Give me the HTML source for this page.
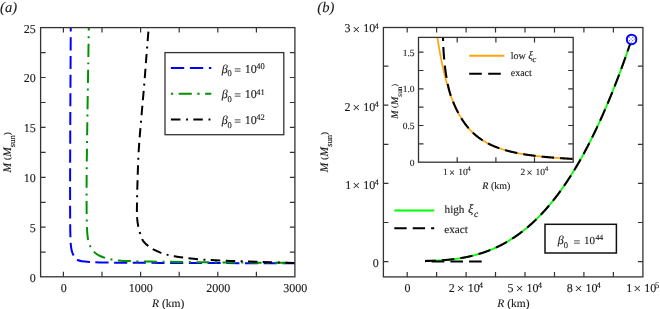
<!DOCTYPE html><html><head><meta charset="utf-8"><style>
html,body{margin:0;padding:0;background:#fff;}
svg{display:block;will-change:transform;text-rendering:geometricPrecision;font-family:"Liberation Serif",serif;}
text{fill:#1a1a1a;stroke:#1a1a1a;stroke-width:0.12px;}
</style></head><body>
<svg width="660" height="309" viewBox="0 0 660 309">
<rect x="0" y="0" width="660" height="309" fill="#fff"/>
<text x="0.09" y="12.20" font-size="14.6" font-style="italic">(a)</text>
<defs><clipPath id="ca"><rect x="40.6" y="27.6" width="254.3" height="249.2"/></clipPath>
<clipPath id="cb"><rect x="383.4" y="27.5" width="259.4" height="249.4"/></clipPath>
<clipPath id="ci"><rect x="418.5" y="37.4" width="154.7" height="124.8"/></clipPath></defs>
<g clip-path="url(#ca)" fill="none" stroke-width="2">
<path d="M70.80 20.00 C70.77 26.67 70.68 43.33 70.60 60.00 C70.52 76.67 70.38 98.33 70.30 120.00 C70.22 141.67 70.12 172.50 70.10 190.00 C70.08 207.50 70.15 217.33 70.20 225.00 C70.25 232.67 70.32 232.93 70.40 236.00 C70.48 239.07 70.55 241.32 70.70 243.40 C70.85 245.48 71.05 247.02 71.30 248.50 C71.55 249.98 71.85 251.20 72.20 252.30 C72.55 253.40 72.88 254.15 73.40 255.10 C73.92 256.05 74.62 257.18 75.30 258.00 C75.98 258.82 76.38 259.47 77.50 260.00 C78.62 260.53 80.05 260.88 82.00 261.20 C83.95 261.52 86.20 261.70 89.20 261.90 C92.20 262.10 94.87 262.27 100.00 262.40 C105.13 262.53 110.00 262.62 120.00 262.70 C130.00 262.78 143.33 262.83 160.00 262.90 C176.67 262.97 197.33 263.03 220.00 263.10 C242.67 263.17 283.33 263.27 296.00 263.30" stroke="#0000ff" stroke-dasharray="13.1 5.58" stroke-dashoffset="1.34"/>
<path d="M88.90 20.00 C88.80 26.67 88.53 45.00 88.30 60.00 C88.07 75.00 87.77 91.67 87.50 110.00 C87.23 128.33 86.85 154.17 86.70 170.00 C86.55 185.83 86.58 196.33 86.60 205.00 C86.62 213.67 86.70 217.50 86.80 222.00 C86.90 226.50 87.02 229.25 87.20 232.00 C87.38 234.75 87.62 236.70 87.90 238.50 C88.18 240.30 88.52 241.53 88.90 242.80 C89.28 244.07 89.72 245.07 90.20 246.10 C90.68 247.13 91.23 248.12 91.80 249.00 C92.37 249.88 92.82 250.57 93.60 251.40 C94.38 252.23 95.43 253.23 96.50 254.00 C97.57 254.77 98.60 255.35 100.00 256.00 C101.40 256.65 103.02 257.33 104.90 257.90 C106.78 258.47 109.07 258.98 111.30 259.40 C113.53 259.82 115.18 260.12 118.30 260.40 C121.42 260.68 124.72 260.90 130.00 261.10 C135.28 261.30 138.33 261.42 150.00 261.60 C161.67 261.78 183.33 262.03 200.00 262.20 C216.67 262.37 234.00 262.48 250.00 262.60 C266.00 262.72 288.33 262.85 296.00 262.90" stroke="#009200" stroke-dasharray="2 5.6 12.9 5.65" stroke-dashoffset="9.75"/>
<path d="M148.40 31.60 C148.08 35.50 147.20 46.10 146.50 55.00 C145.80 63.90 145.07 74.50 144.20 85.00 C143.33 95.50 142.22 107.00 141.30 118.00 C140.38 129.00 139.35 139.83 138.70 151.00 C138.05 162.17 137.70 175.17 137.40 185.00 C137.10 194.83 136.95 204.50 136.90 210.00 C136.85 215.50 136.88 215.32 137.10 218.00 C137.32 220.68 137.72 223.58 138.20 226.10 C138.68 228.62 139.32 230.87 140.00 233.10 C140.68 235.33 141.47 237.83 142.30 239.50 C143.13 241.17 144.02 242.03 145.00 243.10 C145.98 244.17 146.80 244.85 148.20 245.90 C149.60 246.95 151.27 248.23 153.40 249.40 C155.53 250.57 158.63 251.98 161.00 252.90 C163.37 253.82 165.37 254.33 167.60 254.90 C169.83 255.47 171.82 255.85 174.40 256.30 C176.98 256.75 179.22 257.10 183.10 257.60 C186.98 258.10 193.22 258.90 197.70 259.30 C202.18 259.70 204.62 259.73 210.00 260.00 C215.38 260.27 223.33 260.63 230.00 260.90 C236.67 261.17 243.33 261.37 250.00 261.60 C256.67 261.83 262.33 262.07 270.00 262.30 C277.67 262.53 291.67 262.88 296.00 263.00" stroke="#000" stroke-dasharray="9.4 5.5 9.4 5.5 2 5.41" stroke-dashoffset="14.77"/>
</g>
<g stroke="#333" fill="none" stroke-width="1.3">
<rect x="40.6" y="27.6" width="254.3" height="249.2"/>
<path d="M63.4 276.8V271.8 M63.4 27.6V32.6 M102.0 276.8V271.8 M102.0 27.6V32.6 M140.6 276.8V271.8 M140.6 27.6V32.6 M179.2 276.8V271.8 M179.2 27.6V32.6 M217.8 276.8V271.8 M217.8 27.6V32.6 M256.4 276.8V271.8 M256.4 27.6V32.6 M40.6 252.2H45.6 M294.9 252.2H289.9 M40.6 227.2H45.6 M294.9 227.2H289.9 M40.6 202.3H45.6 M294.9 202.3H289.9 M40.6 177.3H45.6 M294.9 177.3H289.9 M40.6 152.4H45.6 M294.9 152.4H289.9 M40.6 127.4H45.6 M294.9 127.4H289.9 M40.6 102.5H45.6 M294.9 102.5H289.9 M40.6 77.5H45.6 M294.9 77.5H289.9 M40.6 52.6H45.6 M294.9 52.6H289.9" stroke-width="1.2"/>
</g>
<text x="29.76" y="281.65" font-size="12">0</text>
<text x="29.77" y="231.80" font-size="12">5</text>
<text x="23.76" y="181.90" font-size="12">10</text>
<text x="23.77" y="132.00" font-size="12">15</text>
<text x="23.76" y="82.10" font-size="12">20</text>
<text x="23.77" y="32.50" font-size="12">25</text>
<text x="60.80" y="291.65" font-size="12">0</text>
<text x="128.70" y="291.65" font-size="12">1000</text>
<text x="206.16" y="291.65" font-size="12">2000</text>
<text x="283.34" y="291.65" font-size="12">3000</text>
<text x="152.06" y="306.60" font-size="11.5" font-style="italic">R</text><text x="161.96" y="306.60" font-size="11.5">(km)</text>
<g transform="translate(11.40,172.60) rotate(-90)"><text x="0.13" y="0.00" font-size="11.5" font-style="italic">M</text><text x="12.59" y="-1.30" font-size="8.97">(</text><text x="15.88" y="0.00" font-size="11.5" font-style="italic">M</text><text x="25.46" y="3.80" font-size="8.6">sun</text><text x="37.40" y="-1.30" font-size="8.97">)</text></g>
<rect x="165" y="52.6" width="118.8" height="82.1" fill="#fff" stroke="#333" stroke-width="1.3"/>
<path d="M170.9 68H211.3" stroke="#0000ff" stroke-width="2" stroke-dasharray="13.3 5.7"/>
<path d="M170.9 93.8H211.3" stroke="#009200" stroke-width="2" stroke-dasharray="2.3 5.5 13.1 5.5"/>
<path d="M170.9 119.6H211.3" stroke="#000" stroke-width="2" stroke-dasharray="9.5 5.7 1.9 5.3"/>
<text x="221.79" y="72.50" font-size="12" font-style="italic">β</text><text x="227.38" y="76.40" font-size="8.5">0</text><text x="234.30" y="73.60" font-size="12">=</text><text x="244.75" y="72.50" font-size="12">10</text><text x="256.33" y="68.80" font-size="8.5">40</text>
<text x="221.79" y="98.20" font-size="12" font-style="italic">β</text><text x="227.38" y="102.10" font-size="8.5">0</text><text x="234.30" y="99.30" font-size="12">=</text><text x="244.75" y="98.20" font-size="12">10</text><text x="256.33" y="94.50" font-size="8.5">41</text>
<text x="221.79" y="123.90" font-size="12" font-style="italic">β</text><text x="227.38" y="127.80" font-size="8.5">0</text><text x="234.30" y="125.00" font-size="12">=</text><text x="244.75" y="123.90" font-size="12">10</text><text x="256.33" y="120.20" font-size="8.5">42</text>
<text x="317.29" y="12.00" font-size="14.6" font-style="italic">(b)</text>
<g clip-path="url(#cb)" fill="none" stroke-width="2">
<path d="M425.00 260.95 L425.43 260.95 L425.86 260.94 L426.29 260.93 L426.72 260.92 L427.15 260.91 L427.59 260.90 L428.02 260.89 L428.45 260.88 L428.88 260.87 L429.31 260.86 L429.74 260.84 L430.17 260.83 L430.60 260.82 L431.03 260.80 L431.46 260.79 L431.89 260.78 L432.32 260.76 L432.76 260.74 L433.19 260.73 L433.62 260.71 L434.05 260.69 L434.48 260.68 L434.91 260.66 L435.34 260.64 L435.77 260.62 L436.20 260.60 L436.63 260.58 L437.06 260.56 L437.49 260.53 L437.93 260.51 L438.36 260.49 L438.79 260.46 L439.22 260.44 L439.65 260.41 L440.08 260.39 L440.51 260.36 L440.94 260.33 L441.37 260.30 L441.80 260.27 L442.23 260.24 L442.67 260.21 L443.10 260.18 L443.53 260.15 L443.96 260.12 L444.39 260.08 L444.82 260.05 L445.25 260.01 L445.68 259.98 L446.11 259.94 L446.54 259.90 L446.97 259.86 L447.40 259.82 L447.84 259.78 L448.27 259.74 L448.70 259.70 L449.13 259.66 L449.56 259.61 L449.99 259.57 L450.42 259.52 L450.85 259.47 L451.28 259.43 L451.71 259.38 L452.14 259.33 L452.58 259.28 L453.01 259.23 L453.44 259.17 L453.87 259.12 L454.30 259.07 L454.73 259.01 L455.16 258.95 L455.59 258.90 L456.02 258.84 L456.45 258.78 L456.88 258.72 L457.31 258.66 L457.75 258.59 L458.18 258.53 L458.61 258.46 L459.04 258.40 L459.47 258.33 L459.90 258.26 L460.33 258.19 L460.76 258.12 L461.19 258.05 L461.62 257.98 L462.05 257.90 L462.48 257.83 L462.92 257.75 L463.35 257.67 L463.78 257.59 L464.21 257.51 L464.64 257.43 L465.07 257.35 L465.50 257.27 L465.93 257.18 L466.36 257.09 L466.79 257.01 L467.22 256.92 L467.66 256.83 L468.09 256.73 L468.52 256.64 L468.95 256.55 L469.38 256.45 L469.81 256.35 L470.24 256.26 L470.67 256.16 L471.10 256.06 L471.53 255.95 L471.96 255.85 L472.39 255.74 L472.83 255.64 L473.26 255.53 L473.69 255.42 L474.12 255.31 L474.55 255.20 L474.98 255.08 L475.41 254.97 L475.84 254.85 L476.27 254.73 L476.70 254.61 L477.13 254.49 L477.57 254.37 L478.00 254.24 L478.43 254.12 L478.86 253.99 L479.29 253.86 L479.72 253.73 L480.15 253.60 L480.58 253.46 L481.01 253.33 L481.44 253.19 L481.87 253.05 L482.30 252.91 L482.74 252.77 L483.17 252.63 L483.60 252.48 L484.03 252.34 L484.46 252.19 L484.89 252.04 L485.32 251.88 L485.75 251.73 L486.18 251.58 L486.61 251.42 L487.04 251.26 L487.47 251.10 L487.91 250.94 L488.34 250.77 L488.77 250.61 L489.20 250.44 L489.63 250.27 L490.06 250.10 L490.49 249.93 L490.92 249.75 L491.35 249.58 L491.78 249.40 L492.21 249.22 L492.65 249.04 L493.08 248.85 L493.51 248.67 L493.94 248.48 L494.37 248.29 L494.80 248.10 L495.23 247.90 L495.66 247.71 L496.09 247.51 L496.52 247.31 L496.95 247.11 L497.38 246.91 L497.82 246.70 L498.25 246.50 L498.68 246.29 L499.11 246.08 L499.54 245.86 L499.97 245.65 L500.40 245.43 L500.83 245.21 L501.26 244.99 L501.69 244.77 L502.12 244.54 L502.56 244.32 L502.99 244.09 L503.42 243.85 L503.85 243.62 L504.28 243.39 L504.71 243.15 L505.14 242.91 L505.57 242.67 L506.00 242.42 L506.43 242.18 L506.86 241.93 L507.29 241.68 L507.73 241.42 L508.16 241.17 L508.59 240.91 L509.02 240.65 L509.45 240.39 L509.88 240.13 L510.31 239.86 L510.74 239.59 L511.17 239.32 L511.60 239.05 L512.03 238.77 L512.46 238.49 L512.90 238.21 L513.33 237.93 L513.76 237.65 L514.19 237.36 L514.62 237.07 L515.05 236.78 L515.48 236.49 L515.91 236.19 L516.34 235.89 L516.77 235.59 L517.20 235.29 L517.64 234.98 L518.07 234.67 L518.50 234.36 L518.93 234.05 L519.36 233.73 L519.79 233.42 L520.22 233.10 L520.65 232.77 L521.08 232.45 L521.51 232.12 L521.94 231.79 L522.37 231.46 L522.81 231.12 L523.24 230.78 L523.67 230.44 L524.10 230.10 L524.53 229.75 L524.96 229.40 L525.39 229.05 L525.82 228.70 L526.25 228.34 L526.68 227.99 L527.11 227.62 L527.55 227.26 L527.98 226.89 L528.41 226.53 L528.84 226.15 L529.27 225.78 L529.70 225.40 L530.13 225.02 L530.56 224.64 L530.99 224.25 L531.42 223.87 L531.85 223.48 L532.28 223.08 L532.72 222.69 L533.15 222.29 L533.58 221.89 L534.01 221.48 L534.44 221.07 L534.87 220.66 L535.30 220.25 L535.73 219.84 L536.16 219.42 L536.59 219.00 L537.02 218.57 L537.45 218.15 L537.89 217.72 L538.32 217.28 L538.75 216.85 L539.18 216.41 L539.61 215.97 L540.04 215.52 L540.47 215.08 L540.90 214.63 L541.33 214.17 L541.76 213.72 L542.19 213.26 L542.63 212.80 L543.06 212.33 L543.49 211.86 L543.92 211.39 L544.35 210.92 L544.78 210.44 L545.21 209.96 L545.64 209.48 L546.07 208.99 L546.50 208.50 L546.93 208.01 L547.36 207.52 L547.80 207.02 L548.23 206.52 L548.66 206.01 L549.09 205.51 L549.52 204.99 L549.95 204.48 L550.38 203.96 L550.81 203.44 L551.24 202.92 L551.67 202.39 L552.10 201.86 L552.54 201.33 L552.97 200.80 L553.40 200.26 L553.83 199.71 L554.26 199.17 L554.69 198.62 L555.12 198.07 L555.55 197.51 L555.98 196.95 L556.41 196.39 L556.84 195.83 L557.27 195.26 L557.71 194.69 L558.14 194.11 L558.57 193.53 L559.00 192.95 L559.43 192.37 L559.86 191.78 L560.29 191.19 L560.72 190.59 L561.15 189.99 L561.58 189.39 L562.01 188.79 L562.44 188.18 L562.88 187.56 L563.31 186.95 L563.74 186.33 L564.17 185.71 L564.60 185.08 L565.03 184.45 L565.46 183.82 L565.89 183.18 L566.32 182.54 L566.75 181.90 L567.18 181.25 L567.62 180.60 L568.05 179.95 L568.48 179.29 L568.91 178.63 L569.34 177.97 L569.77 177.30 L570.20 176.63 L570.63 175.95 L571.06 175.27 L571.49 174.59 L571.92 173.90 L572.35 173.21 L572.79 172.52 L573.22 171.82 L573.65 171.12 L574.08 170.42 L574.51 169.71 L574.94 169.00 L575.37 168.28 L575.80 167.56 L576.23 166.84 L576.66 166.11 L577.09 165.38 L577.53 164.65 L577.96 163.91 L578.39 163.17 L578.82 162.42 L579.25 161.68 L579.68 160.92 L580.11 160.17 L580.54 159.41 L580.97 158.64 L581.40 157.87 L581.83 157.10 L582.26 156.32 L582.70 155.54 L583.13 154.76 L583.56 153.97 L583.99 153.18 L584.42 152.39 L584.85 151.59 L585.28 150.78 L585.71 149.98 L586.14 149.17 L586.57 148.35 L587.00 147.53 L587.43 146.71 L587.87 145.88 L588.30 145.05 L588.73 144.22 L589.16 143.38 L589.59 142.53 L590.02 141.69 L590.45 140.84 L590.88 139.98 L591.31 139.12 L591.74 138.26 L592.17 137.39 L592.61 136.52 L593.04 135.64 L593.47 134.77 L593.90 133.88 L594.33 132.99 L594.76 132.10 L595.19 131.21 L595.62 130.31 L596.05 129.40 L596.48 128.49 L596.91 127.58 L597.34 126.66 L597.78 125.74 L598.21 124.82 L598.64 123.89 L599.07 122.95 L599.50 122.02 L599.93 121.07 L600.36 120.13 L600.79 119.18 L601.22 118.22 L601.65 117.26 L602.08 116.30 L602.52 115.33 L602.95 114.36 L603.38 113.38 L603.81 112.40 L604.24 111.41 L604.67 110.42 L605.10 109.43 L605.53 108.43 L605.96 107.43 L606.39 106.42 L606.82 105.41 L607.25 104.39 L607.69 103.37 L608.12 102.35 L608.55 101.32 L608.98 100.29 L609.41 99.25 L609.84 98.21 L610.27 97.16 L610.70 96.11 L611.13 95.05 L611.56 93.99 L611.99 92.92 L612.42 91.85 L612.86 90.78 L613.29 89.70 L613.72 88.62 L614.15 87.53 L614.58 86.44 L615.01 85.34 L615.44 84.24 L615.87 83.13 L616.30 82.02 L616.73 80.91 L617.16 79.79 L617.60 78.66 L618.03 77.53 L618.46 76.40 L618.89 75.26 L619.32 74.11 L619.75 72.97 L620.18 71.81 L620.61 70.66 L621.04 69.49 L621.47 68.33 L621.90 67.15 L622.33 65.98 L622.77 64.80 L623.20 63.61 L623.63 62.42 L624.06 61.22 L624.49 60.02 L624.92 58.82 L625.35 57.61 L625.78 56.39 L626.21 55.17 L626.64 53.95 L627.07 52.72 L627.51 51.48 L627.94 50.24 L628.37 49.00 L628.80 47.75 L629.23 46.50 L629.66 45.24 L630.09 43.97 L630.52 42.70 L630.95 41.43 L631.38 40.15" stroke="#00ff00" stroke-width="1.8"/>
<path d="M425.00 260.95 L425.43 260.95 L425.86 260.94 L426.29 260.93 L426.72 260.92 L427.15 260.91 L427.59 260.90 L428.02 260.89 L428.45 260.88 L428.88 260.87 L429.31 260.86 L429.74 260.84 L430.17 260.83 L430.60 260.82 L431.03 260.80 L431.46 260.79 L431.89 260.78 L432.32 260.76 L432.76 260.74 L433.19 260.73 L433.62 260.71 L434.05 260.69 L434.48 260.68 L434.91 260.66 L435.34 260.64 L435.77 260.62 L436.20 260.60 L436.63 260.58 L437.06 260.56 L437.49 260.53 L437.93 260.51 L438.36 260.49 L438.79 260.46 L439.22 260.44 L439.65 260.41 L440.08 260.39 L440.51 260.36 L440.94 260.33 L441.37 260.30 L441.80 260.27 L442.23 260.24 L442.67 260.21 L443.10 260.18 L443.53 260.15 L443.96 260.12 L444.39 260.08 L444.82 260.05 L445.25 260.01 L445.68 259.98 L446.11 259.94 L446.54 259.90 L446.97 259.86 L447.40 259.82 L447.84 259.78 L448.27 259.74 L448.70 259.70 L449.13 259.66 L449.56 259.61 L449.99 259.57 L450.42 259.52 L450.85 259.47 L451.28 259.43 L451.71 259.38 L452.14 259.33 L452.58 259.28 L453.01 259.23 L453.44 259.17 L453.87 259.12 L454.30 259.07 L454.73 259.01 L455.16 258.95 L455.59 258.90 L456.02 258.84 L456.45 258.78 L456.88 258.72 L457.31 258.66 L457.75 258.59 L458.18 258.53 L458.61 258.46 L459.04 258.40 L459.47 258.33 L459.90 258.26 L460.33 258.19 L460.76 258.12 L461.19 258.05 L461.62 257.98 L462.05 257.90 L462.48 257.83 L462.92 257.75 L463.35 257.67 L463.78 257.59 L464.21 257.51 L464.64 257.43 L465.07 257.35 L465.50 257.27 L465.93 257.18 L466.36 257.09 L466.79 257.01 L467.22 256.92 L467.66 256.83 L468.09 256.73 L468.52 256.64 L468.95 256.55 L469.38 256.45 L469.81 256.35 L470.24 256.26 L470.67 256.16 L471.10 256.06 L471.53 255.95 L471.96 255.85 L472.39 255.74 L472.83 255.64 L473.26 255.53 L473.69 255.42 L474.12 255.31 L474.55 255.20 L474.98 255.08 L475.41 254.97 L475.84 254.85 L476.27 254.73 L476.70 254.61 L477.13 254.49 L477.57 254.37 L478.00 254.24 L478.43 254.12 L478.86 253.99 L479.29 253.86 L479.72 253.73 L480.15 253.60 L480.58 253.46 L481.01 253.33 L481.44 253.19 L481.87 253.05 L482.30 252.91 L482.74 252.77 L483.17 252.63 L483.60 252.48 L484.03 252.34 L484.46 252.19 L484.89 252.04 L485.32 251.88 L485.75 251.73 L486.18 251.58 L486.61 251.42 L487.04 251.26 L487.47 251.10 L487.91 250.94 L488.34 250.77 L488.77 250.61 L489.20 250.44 L489.63 250.27 L490.06 250.10 L490.49 249.93 L490.92 249.75 L491.35 249.58 L491.78 249.40 L492.21 249.22 L492.65 249.04 L493.08 248.85 L493.51 248.67 L493.94 248.48 L494.37 248.29 L494.80 248.10 L495.23 247.90 L495.66 247.71 L496.09 247.51 L496.52 247.31 L496.95 247.11 L497.38 246.91 L497.82 246.70 L498.25 246.50 L498.68 246.29 L499.11 246.08 L499.54 245.86 L499.97 245.65 L500.40 245.43 L500.83 245.21 L501.26 244.99 L501.69 244.77 L502.12 244.54 L502.56 244.32 L502.99 244.09 L503.42 243.85 L503.85 243.62 L504.28 243.39 L504.71 243.15 L505.14 242.91 L505.57 242.67 L506.00 242.42 L506.43 242.18 L506.86 241.93 L507.29 241.68 L507.73 241.42 L508.16 241.17 L508.59 240.91 L509.02 240.65 L509.45 240.39 L509.88 240.13 L510.31 239.86 L510.74 239.59 L511.17 239.32 L511.60 239.05 L512.03 238.77 L512.46 238.49 L512.90 238.21 L513.33 237.93 L513.76 237.65 L514.19 237.36 L514.62 237.07 L515.05 236.78 L515.48 236.49 L515.91 236.19 L516.34 235.89 L516.77 235.59 L517.20 235.29 L517.64 234.98 L518.07 234.67 L518.50 234.36 L518.93 234.05 L519.36 233.73 L519.79 233.42 L520.22 233.10 L520.65 232.77 L521.08 232.45 L521.51 232.12 L521.94 231.79 L522.37 231.46 L522.81 231.12 L523.24 230.78 L523.67 230.44 L524.10 230.10 L524.53 229.75 L524.96 229.40 L525.39 229.05 L525.82 228.70 L526.25 228.34 L526.68 227.99 L527.11 227.62 L527.55 227.26 L527.98 226.89 L528.41 226.53 L528.84 226.15 L529.27 225.78 L529.70 225.40 L530.13 225.02 L530.56 224.64 L530.99 224.25 L531.42 223.87 L531.85 223.48 L532.28 223.08 L532.72 222.69 L533.15 222.29 L533.58 221.89 L534.01 221.48 L534.44 221.07 L534.87 220.66 L535.30 220.25 L535.73 219.84 L536.16 219.42 L536.59 219.00 L537.02 218.57 L537.45 218.15 L537.89 217.72 L538.32 217.28 L538.75 216.85 L539.18 216.41 L539.61 215.97 L540.04 215.52 L540.47 215.08 L540.90 214.63 L541.33 214.17 L541.76 213.72 L542.19 213.26 L542.63 212.80 L543.06 212.33 L543.49 211.86 L543.92 211.39 L544.35 210.92 L544.78 210.44 L545.21 209.96 L545.64 209.48 L546.07 208.99 L546.50 208.50 L546.93 208.01 L547.36 207.52 L547.80 207.02 L548.23 206.52 L548.66 206.01 L549.09 205.51 L549.52 204.99 L549.95 204.48 L550.38 203.96 L550.81 203.44 L551.24 202.92 L551.67 202.39 L552.10 201.86 L552.54 201.33 L552.97 200.80 L553.40 200.26 L553.83 199.71 L554.26 199.17 L554.69 198.62 L555.12 198.07 L555.55 197.51 L555.98 196.95 L556.41 196.39 L556.84 195.83 L557.27 195.26 L557.71 194.69 L558.14 194.11 L558.57 193.53 L559.00 192.95 L559.43 192.37 L559.86 191.78 L560.29 191.19 L560.72 190.59 L561.15 189.99 L561.58 189.39 L562.01 188.79 L562.44 188.18 L562.88 187.56 L563.31 186.95 L563.74 186.33 L564.17 185.71 L564.60 185.08 L565.03 184.45 L565.46 183.82 L565.89 183.18 L566.32 182.54 L566.75 181.90 L567.18 181.25 L567.62 180.60 L568.05 179.95 L568.48 179.29 L568.91 178.63 L569.34 177.97 L569.77 177.30 L570.20 176.63 L570.63 175.95 L571.06 175.27 L571.49 174.59 L571.92 173.90 L572.35 173.21 L572.79 172.52 L573.22 171.82 L573.65 171.12 L574.08 170.42 L574.51 169.71 L574.94 169.00 L575.37 168.28 L575.80 167.56 L576.23 166.84 L576.66 166.11 L577.09 165.38 L577.53 164.65 L577.96 163.91 L578.39 163.17 L578.82 162.42 L579.25 161.68 L579.68 160.92 L580.11 160.17 L580.54 159.41 L580.97 158.64 L581.40 157.87 L581.83 157.10 L582.26 156.32 L582.70 155.54 L583.13 154.76 L583.56 153.97 L583.99 153.18 L584.42 152.39 L584.85 151.59 L585.28 150.78 L585.71 149.98 L586.14 149.17 L586.57 148.35 L587.00 147.53 L587.43 146.71 L587.87 145.88 L588.30 145.05 L588.73 144.22 L589.16 143.38 L589.59 142.53 L590.02 141.69 L590.45 140.84 L590.88 139.98 L591.31 139.12 L591.74 138.26 L592.17 137.39 L592.61 136.52 L593.04 135.64 L593.47 134.77 L593.90 133.88 L594.33 132.99 L594.76 132.10 L595.19 131.21 L595.62 130.31 L596.05 129.40 L596.48 128.49 L596.91 127.58 L597.34 126.66 L597.78 125.74 L598.21 124.82 L598.64 123.89 L599.07 122.95 L599.50 122.02 L599.93 121.07 L600.36 120.13 L600.79 119.18 L601.22 118.22 L601.65 117.26 L602.08 116.30 L602.52 115.33 L602.95 114.36 L603.38 113.38 L603.81 112.40 L604.24 111.41 L604.67 110.42 L605.10 109.43 L605.53 108.43 L605.96 107.43 L606.39 106.42 L606.82 105.41 L607.25 104.39 L607.69 103.37 L608.12 102.35 L608.55 101.32 L608.98 100.29 L609.41 99.25 L609.84 98.21 L610.27 97.16 L610.70 96.11 L611.13 95.05 L611.56 93.99 L611.99 92.92 L612.42 91.85 L612.86 90.78 L613.29 89.70 L613.72 88.62 L614.15 87.53 L614.58 86.44 L615.01 85.34 L615.44 84.24 L615.87 83.13 L616.30 82.02 L616.73 80.91 L617.16 79.79 L617.60 78.66 L618.03 77.53 L618.46 76.40 L618.89 75.26 L619.32 74.11 L619.75 72.97 L620.18 71.81 L620.61 70.66 L621.04 69.49 L621.47 68.33 L621.90 67.15 L622.33 65.98 L622.77 64.80 L623.20 63.61 L623.63 62.42 L624.06 61.22 L624.49 60.02 L624.92 58.82 L625.35 57.61 L625.78 56.39 L626.21 55.17 L626.64 53.95 L627.07 52.72 L627.51 51.48 L627.94 50.24 L628.37 49.00 L628.80 47.75 L629.23 46.50 L629.66 45.24 L630.09 43.97 L630.52 42.70 L630.95 41.43 L631.38 40.15" stroke="#000" stroke-width="2.1" stroke-dasharray="12.55 6.08" stroke-dashoffset="1.84"/>
<path d="M481.7 261.45H425" stroke="#000" stroke-dasharray="12.6 6.12"/>
</g>
<circle cx="631.6" cy="39.4" r="4.75" fill="#fff" stroke="#0000ff" stroke-width="2"/>
<circle cx="629.30" cy="37.30" r="0.6" fill="#4a4aff"/>
<circle cx="632.70" cy="37.30" r="0.6" fill="#4a4aff"/>
<circle cx="631.10" cy="39.00" r="0.6" fill="#4a4aff"/>
<circle cx="634.20" cy="39.10" r="0.6" fill="#4a4aff"/>
<circle cx="629.50" cy="40.60" r="0.6" fill="#4a4aff"/>
<circle cx="632.70" cy="40.60" r="0.6" fill="#4a4aff"/>
<circle cx="631.20" cy="42.10" r="0.6" fill="#4a4aff"/>
<g stroke="#333" fill="none" stroke-width="1.3">
<rect x="383.4" y="27.5" width="259.5" height="249.4"/>
<path d="M407.2 276.9V271.9 M407.2 27.5V32.5 M436.6 276.9V271.9 M436.6 27.5V32.5 M466.1 276.9V271.9 M466.1 27.5V32.5 M495.5 276.9V271.9 M495.5 27.5V32.5 M525.0 276.9V271.9 M525.0 27.5V32.5 M554.5 276.9V271.9 M554.5 27.5V32.5 M583.9 276.9V271.9 M583.9 27.5V32.5 M613.4 276.9V271.9 M613.4 27.5V32.5 M383.4 261.6H388.4 M642.9 261.6H637.9 M383.4 222.5H388.4 M642.9 222.5H637.9 M383.4 183.4H388.4 M642.9 183.4H637.9 M383.4 144.3H388.4 M642.9 144.3H637.9 M383.4 105.2H388.4 M642.9 105.2H637.9 M383.4 66.1H388.4 M642.9 66.1H637.9" stroke-width="1.2"/>
</g>
<text x="372.86" y="266.60" font-size="12">0</text>
<text x="345.15" y="188.70" font-size="12">1</text><text x="352.53" y="190.10" font-size="13.5">×</text><text x="363.35" y="188.70" font-size="12">10</text><text x="374.43" y="185.10" font-size="8.5">4</text>
<text x="344.47" y="110.50" font-size="12">2</text><text x="352.53" y="111.90" font-size="13.5">×</text><text x="363.35" y="110.50" font-size="12">10</text><text x="374.43" y="106.90" font-size="8.5">4</text>
<text x="344.43" y="32.30" font-size="12">3</text><text x="352.53" y="33.70" font-size="13.5">×</text><text x="363.35" y="32.30" font-size="12">10</text><text x="374.43" y="28.70" font-size="8.5">4</text>
<text x="404.40" y="291.90" font-size="12">0</text>
<text x="448.77" y="291.90" font-size="12">2</text><text x="456.83" y="293.30" font-size="13.5">×</text><text x="467.65" y="291.90" font-size="12">10</text><text x="478.73" y="288.30" font-size="8.5">4</text>
<text x="507.50" y="291.90" font-size="12">5</text><text x="515.73" y="293.30" font-size="13.5">×</text><text x="526.55" y="291.90" font-size="12">10</text><text x="537.63" y="288.30" font-size="8.5">4</text>
<text x="566.64" y="291.90" font-size="12">8</text><text x="574.63" y="293.30" font-size="13.5">×</text><text x="585.45" y="291.90" font-size="12">10</text><text x="596.53" y="288.30" font-size="8.5">4</text>
<text x="626.15" y="291.90" font-size="12">1</text><text x="633.53" y="293.30" font-size="13.5">×</text><text x="644.35" y="291.90" font-size="12">10</text><text x="655.11" y="288.30" font-size="8.5">5</text>
<text x="497.36" y="306.70" font-size="11.5" font-style="italic">R</text><text x="507.26" y="306.70" font-size="11.5">(km)</text>
<g transform="translate(327.80,172.30) rotate(-90)"><text x="0.13" y="0.00" font-size="11.5" font-style="italic">M</text><text x="12.59" y="-1.30" font-size="8.97">(</text><text x="15.88" y="0.00" font-size="11.5" font-style="italic">M</text><text x="25.46" y="3.90" font-size="8.6">sun</text><text x="37.40" y="-1.30" font-size="8.97">)</text></g>
<path d="M394.3 210.5H434.2" stroke="#00ff00" stroke-width="1.9"/>
<path d="M394.3 228.3H434.2" stroke="#000" stroke-width="2" stroke-dasharray="12.4 6"/>
<text x="444.59" y="212.90" font-size="11.2">high</text>
<text x="468.07" y="213.20" font-size="12.5" font-style="italic">ξ</text>
<text x="473.91" y="217.10" font-size="9.5" font-style="italic">c</text>
<text x="444.26" y="232.60" font-size="11.2">exact</text>
<rect x="545" y="224.3" width="71.4" height="28.7" fill="#fff" stroke="#111" stroke-width="1.5"/>
<text x="557.79" y="243.80" font-size="12" font-style="italic">β</text><text x="563.78" y="247.70" font-size="8.5">0</text><text x="573.40" y="245.80" font-size="12">=</text><text x="583.95" y="243.80" font-size="11">10</text><text x="595.45" y="240.00" font-size="7.8">44</text>
<rect x="418.5" y="37.4" width="154.7" height="124.8" fill="#fff"/>
<g clip-path="url(#ci)" fill="none">
<path d="M437.37 37.40 L437.83 40.34 L438.29 43.19 L438.75 45.96 L439.21 48.63 L439.66 51.23 L440.12 53.75 L440.58 56.19 L441.04 58.56 L441.50 60.86 L441.96 63.09 L442.42 65.25 L442.88 67.36 L443.34 69.40 L443.80 71.39 L444.26 73.32 L444.72 75.19 L445.18 77.01 L445.64 78.78 L446.10 80.51 L446.56 82.18 L447.02 83.81 L447.48 85.40 L447.93 86.94 L448.39 88.45 L448.85 89.91 L449.31 91.33 L449.77 92.72 L450.23 94.07 L450.69 95.39 L451.15 96.67 L451.61 97.92 L452.07 99.14 L452.53 100.33 L452.99 101.49 L453.45 102.62 L453.91 103.72 L454.37 104.79 L454.83 105.84 L455.29 106.86 L455.75 107.86 L456.21 108.84 L456.66 109.79 L457.12 110.72 L457.58 111.63 L458.04 112.51 L458.50 113.38 L458.96 114.22 L459.42 115.05 L459.88 115.86 L460.34 116.64 L460.80 117.42 L461.26 118.17 L461.72 118.91 L462.18 119.63 L462.64 120.33 L463.10 121.02 L463.56 121.70 L464.02 122.35 L464.48 123.00 L464.94 123.63 L465.39 124.25 L465.85 124.85 L466.31 125.45 L466.77 126.03 L467.23 126.59 L467.69 127.15 L468.15 127.69 L468.61 128.23 L469.07 128.75 L469.53 129.26 L469.99 129.76 L470.45 130.25 L470.91 130.73 L471.37 131.20 L471.83 131.67 L472.29 132.12 L472.75 132.56 L473.21 133.00 L473.66 133.43 L474.12 133.84 L474.58 134.25 L475.04 134.66 L475.50 135.05 L475.96 135.44 L476.42 135.82 L476.88 136.19 L477.34 136.56 L477.80 136.92 L478.26 137.27 L478.72 137.62 L479.18 137.95 L479.64 138.29 L480.10 138.62 L480.56 138.94 L481.02 139.25 L481.48 139.56 L481.94 139.87 L482.39 140.16 L482.85 140.46 L483.31 140.75 L483.77 141.03 L484.23 141.31 L484.69 141.58 L485.15 141.85 L485.61 142.11 L486.07 142.37 L486.53 142.63 L486.99 142.88 L487.45 143.13 L487.91 143.37 L488.37 143.61 L488.83 143.84 L489.29 144.07 L489.75 144.30 L490.21 144.52 L490.67 144.74 L491.12 144.95 L491.58 145.17 L492.04 145.37 L492.50 145.58 L492.96 145.78 L493.42 145.98 L493.88 146.17 L494.34 146.37 L494.80 146.56 L495.26 146.74 L495.72 146.92 L496.18 147.10 L496.64 147.28 L497.10 147.46 L497.56 147.63 L498.02 147.80 L498.48 147.96 L498.94 148.13 L499.39 148.29 L499.85 148.45 L500.31 148.61 L500.77 148.76 L501.23 148.91 L501.69 149.06 L502.15 149.21 L502.61 149.36 L503.07 149.50 L503.53 149.64 L503.99 149.78 L504.45 149.92 L504.91 150.05 L505.37 150.18 L505.83 150.31 L506.29 150.44 L506.75 150.57 L507.21 150.70 L507.67 150.82 L508.12 150.94 L508.58 151.06 L509.04 151.18 L509.50 151.30 L509.96 151.41 L510.42 151.52 L510.88 151.64 L511.34 151.75 L511.80 151.86 L512.26 151.96 L512.72 152.07 L513.18 152.17 L513.64 152.28 L514.10 152.38 L514.56 152.48 L515.02 152.58 L515.48 152.67 L515.94 152.77 L516.40 152.87 L516.85 152.96 L517.31 153.05 L517.77 153.14 L518.23 153.23 L518.69 153.32 L519.15 153.41 L519.61 153.49 L520.07 153.58 L520.53 153.66 L520.99 153.75 L521.45 153.83 L521.91 153.91 L522.37 153.99 L522.83 154.07 L523.29 154.15 L523.75 154.22 L524.21 154.30 L524.67 154.37 L525.12 154.45 L525.58 154.52 L526.04 154.59 L526.50 154.67 L526.96 154.74 L527.42 154.80 L527.88 154.87 L528.34 154.94 L528.80 155.01 L529.26 155.07 L529.72 155.14 L530.18 155.20 L530.64 155.27 L531.10 155.33 L531.56 155.39 L532.02 155.45 L532.48 155.52 L532.94 155.58 L533.40 155.63 L533.85 155.69 L534.31 155.75 L534.77 155.81 L535.23 155.86 L535.69 155.92 L536.15 155.98 L536.61 156.03 L537.07 156.08 L537.53 156.14 L537.99 156.19 L538.45 156.24 L538.91 156.29 L539.37 156.34 L539.83 156.40 L540.29 156.44 L540.75 156.49 L541.21 156.54 L541.67 156.59 L542.13 156.64 L542.58 156.69 L543.04 156.73 L543.50 156.78 L543.96 156.82 L544.42 156.87 L544.88 156.91 L545.34 156.96 L545.80 157.00 L546.26 157.04 L546.72 157.08 L547.18 157.13 L547.64 157.17 L548.10 157.21 L548.56 157.25 L549.02 157.29 L549.48 157.33 L549.94 157.37 L550.40 157.41 L550.85 157.45 L551.31 157.49 L551.77 157.52 L552.23 157.56 L552.69 157.60 L553.15 157.63 L553.61 157.67 L554.07 157.71 L554.53 157.74 L554.99 157.78 L555.45 157.81 L555.91 157.84 L556.37 157.88 L556.83 157.91 L557.29 157.95 L557.75 157.98 L558.21 158.01 L558.67 158.04 L559.13 158.07 L559.58 158.11 L560.04 158.14 L560.50 158.17 L560.96 158.20 L561.42 158.23 L561.88 158.26 L562.34 158.29 L562.80 158.32 L563.26 158.35 L563.72 158.38 L564.18 158.40 L564.64 158.43 L565.10 158.46 L565.56 158.49 L566.02 158.52 L566.48 158.54 L566.94 158.57 L567.40 158.60 L567.86 158.62 L568.31 158.65 L568.77 158.68 L569.23 158.70 L569.69 158.73 L570.15 158.75 L570.61 158.78 L571.07 158.80 L571.53 158.83 L571.99 158.85 L572.45 158.87 L572.91 158.90 L573.37 158.92 L573.83 158.94 L574.29 158.97 L574.75 158.99" stroke="#ffa50c" stroke-width="1.7"/>
<path d="M442.97 37.40 L443.06 40.34 L443.17 43.19 L443.29 45.96 L443.43 48.63 L443.58 51.23 L443.75 53.75 L443.94 56.19 L444.13 58.56 L444.34 60.86 L444.56 63.09 L444.79 65.25 L445.04 67.36 L445.29 69.40 L445.56 71.39 L445.83 73.32 L446.12 75.19 L446.41 77.01 L446.72 78.78 L447.03 80.51 L447.35 82.18 L447.68 83.81 L448.02 85.40 L448.37 86.94 L448.73 88.45 L449.09 89.91 L449.47 91.33 L449.86 92.72 L450.26 94.07 L450.69 95.39 L451.15 96.67 L451.61 97.92 L452.07 99.14 L452.53 100.33 L452.99 101.49 L453.45 102.62 L453.91 103.72 L454.37 104.79 L454.83 105.84 L455.29 106.86 L455.75 107.86 L456.21 108.84 L456.66 109.79 L457.12 110.72 L457.58 111.63 L458.04 112.51 L458.50 113.38 L458.96 114.22 L459.42 115.05 L459.88 115.86 L460.34 116.64 L460.80 117.42 L461.26 118.17 L461.72 118.91 L462.18 119.63 L462.64 120.33 L463.10 121.02 L463.56 121.70 L464.02 122.35 L464.48 123.00 L464.94 123.63 L465.39 124.25 L465.85 124.85 L466.31 125.45 L466.77 126.03 L467.23 126.59 L467.69 127.15 L468.15 127.69 L468.61 128.23 L469.07 128.75 L469.53 129.26 L469.99 129.76 L470.45 130.25 L470.91 130.73 L471.37 131.20 L471.83 131.67 L472.29 132.12 L472.75 132.56 L473.21 133.00 L473.66 133.43 L474.12 133.84 L474.58 134.25 L475.04 134.66 L475.50 135.05 L475.96 135.44 L476.42 135.82 L476.88 136.19 L477.34 136.56 L477.80 136.92 L478.26 137.27 L478.72 137.62 L479.18 137.95 L479.64 138.29 L480.10 138.62 L480.56 138.94 L481.02 139.25 L481.48 139.56 L481.94 139.87 L482.39 140.16 L482.85 140.46 L483.31 140.75 L483.77 141.03 L484.23 141.31 L484.69 141.58 L485.15 141.85 L485.61 142.11 L486.07 142.37 L486.53 142.63 L486.99 142.88 L487.45 143.13 L487.91 143.37 L488.37 143.61 L488.83 143.84 L489.29 144.07 L489.75 144.30 L490.21 144.52 L490.67 144.74 L491.12 144.95 L491.58 145.17 L492.04 145.37 L492.50 145.58 L492.96 145.78 L493.42 145.98 L493.88 146.17 L494.34 146.37 L494.80 146.56 L495.26 146.74 L495.72 146.92 L496.18 147.10 L496.64 147.28 L497.10 147.46 L497.56 147.63 L498.02 147.80 L498.48 147.96 L498.94 148.13 L499.39 148.29 L499.85 148.45 L500.31 148.61 L500.77 148.76 L501.23 148.91 L501.69 149.06 L502.15 149.21 L502.61 149.36 L503.07 149.50 L503.53 149.64 L503.99 149.78 L504.45 149.92 L504.91 150.05 L505.37 150.18 L505.83 150.31 L506.29 150.44 L506.75 150.57 L507.21 150.70 L507.67 150.82 L508.12 150.94 L508.58 151.06 L509.04 151.18 L509.50 151.30 L509.96 151.41 L510.42 151.52 L510.88 151.64 L511.34 151.75 L511.80 151.86 L512.26 151.96 L512.72 152.07 L513.18 152.17 L513.64 152.28 L514.10 152.38 L514.56 152.48 L515.02 152.58 L515.48 152.67 L515.94 152.77 L516.40 152.87 L516.85 152.96 L517.31 153.05 L517.77 153.14 L518.23 153.23 L518.69 153.32 L519.15 153.41 L519.61 153.49 L520.07 153.58 L520.53 153.66 L520.99 153.75 L521.45 153.83 L521.91 153.91 L522.37 153.99 L522.83 154.07 L523.29 154.15 L523.75 154.22 L524.21 154.30 L524.67 154.37 L525.12 154.45 L525.58 154.52 L526.04 154.59 L526.50 154.67 L526.96 154.74 L527.42 154.80 L527.88 154.87 L528.34 154.94 L528.80 155.01 L529.26 155.07 L529.72 155.14 L530.18 155.20 L530.64 155.27 L531.10 155.33 L531.56 155.39 L532.02 155.45 L532.48 155.52 L532.94 155.58 L533.40 155.63 L533.85 155.69 L534.31 155.75 L534.77 155.81 L535.23 155.86 L535.69 155.92 L536.15 155.98 L536.61 156.03 L537.07 156.08 L537.53 156.14 L537.99 156.19 L538.45 156.24 L538.91 156.29 L539.37 156.34 L539.83 156.40 L540.29 156.44 L540.75 156.49 L541.21 156.54 L541.67 156.59 L542.13 156.64 L542.58 156.69 L543.04 156.73 L543.50 156.78 L543.96 156.82 L544.42 156.87 L544.88 156.91 L545.34 156.96 L545.80 157.00 L546.26 157.04 L546.72 157.08 L547.18 157.13 L547.64 157.17 L548.10 157.21 L548.56 157.25 L549.02 157.29 L549.48 157.33 L549.94 157.37 L550.40 157.41 L550.85 157.45 L551.31 157.49 L551.77 157.52 L552.23 157.56 L552.69 157.60 L553.15 157.63 L553.61 157.67 L554.07 157.71 L554.53 157.74 L554.99 157.78 L555.45 157.81 L555.91 157.84 L556.37 157.88 L556.83 157.91 L557.29 157.95 L557.75 157.98 L558.21 158.01 L558.67 158.04 L559.13 158.07 L559.58 158.11 L560.04 158.14 L560.50 158.17 L560.96 158.20 L561.42 158.23 L561.88 158.26 L562.34 158.29 L562.80 158.32 L563.26 158.35 L563.72 158.38 L564.18 158.40 L564.64 158.43 L565.10 158.46 L565.56 158.49 L566.02 158.52 L566.48 158.54 L566.94 158.57 L567.40 158.60 L567.86 158.62 L568.31 158.65 L568.77 158.68 L569.23 158.70 L569.69 158.73 L570.15 158.75 L570.61 158.78 L571.07 158.80 L571.53 158.83 L571.99 158.85 L572.45 158.87 L572.91 158.90 L573.37 158.92 L573.83 158.94 L574.29 158.97 L574.75 158.99" stroke="#000" stroke-width="2.1" stroke-dasharray="12.5 6.05" stroke-dashoffset="8.89"/>
</g>
<g stroke="#333" fill="none" stroke-width="1.3">
<rect x="418.5" y="37.4" width="154.7" height="124.8"/>
<path d="M457.2 162.2V157.2 M457.2 37.4V42.4 M495.9 162.2V157.2 M495.9 37.4V42.4 M534.5 162.2V157.2 M534.5 37.4V42.4 M418.5 143.9H423.5 M573.2 143.9H568.2 M418.5 125.5H423.5 M573.2 125.5H568.2 M418.5 107.2H423.5 M573.2 107.2H568.2 M418.5 88.9H423.5 M573.2 88.9H568.2 M418.5 70.5H423.5 M573.2 70.5H568.2 M418.5 52.2H423.5 M573.2 52.2H568.2" stroke-width="1.2"/>
</g>
<text x="409.81" y="165.50" font-size="9.5">0</text>
<text x="402.70" y="128.84" font-size="9.5">0.5</text>
<text x="402.69" y="92.18" font-size="9.5">1.0</text>
<text x="402.70" y="55.52" font-size="9.5">1.5</text>
<text x="443.04" y="174.80" font-size="9.5">1</text><text x="449.04" y="175.80" font-size="10.5">×</text><text x="458.14" y="174.80" font-size="9.5">10</text><text x="467.34" y="171.40" font-size="7">4</text>
<text x="520.51" y="174.80" font-size="9.5">2</text><text x="526.39" y="175.80" font-size="10.5">×</text><text x="535.49" y="174.80" font-size="9.5">10</text><text x="544.69" y="171.40" font-size="7">4</text>
<text x="482.35" y="188.50" font-size="10" font-style="italic">R</text><text x="490.96" y="188.50" font-size="10">(km)</text>
<g transform="translate(398.30,118.90) rotate(-90)"><text x="0.12" y="0.00" font-size="10" font-style="italic">M</text><text x="10.95" y="-1.10" font-size="7.800000000000001">(</text><text x="13.84" y="0.00" font-size="10" font-style="italic">M</text><text x="22.17" y="3.30" font-size="7.4">sun</text><text x="32.45" y="-1.10" font-size="7.800000000000001">)</text></g>
<path d="M469.2 55.8H504.3" stroke="#ffa50c" stroke-width="1.9"/>
<path d="M469.2 73.7H501" stroke="#000" stroke-width="2" stroke-dasharray="12.6 6.4"/>
<text x="510.80" y="58.70" font-size="10">low</text>
<text x="528.32" y="58.90" font-size="11" font-style="italic">ξ</text>
<text x="532.44" y="62.00" font-size="8.5" font-style="italic">c</text>
<text x="510.71" y="75.80" font-size="10">exact</text>
</svg></body></html>
